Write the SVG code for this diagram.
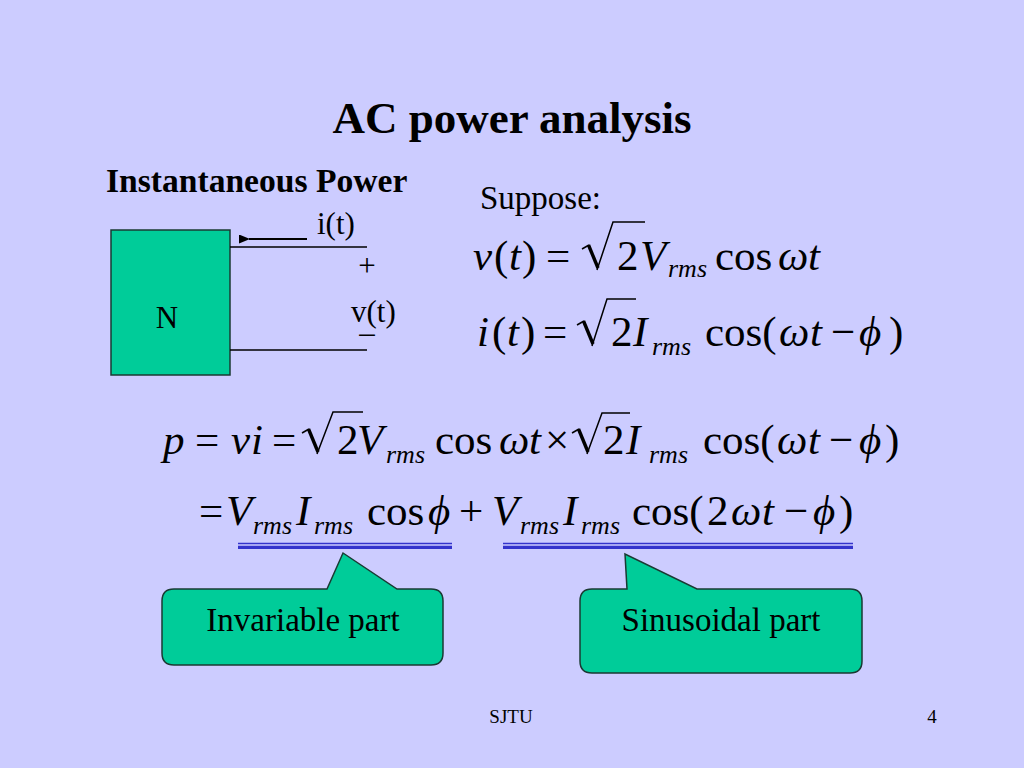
<svg xmlns="http://www.w3.org/2000/svg" width="1024" height="768" viewBox="0 0 1024 768">
<defs>
<style>
.t{font-family:"Liberation Serif","Times New Roman",serif;fill:#000}
.m{font-family:"Liberation Serif","Times New Roman",serif;font-size:43px;fill:#000}
.i{font-style:italic}
.s{font-size:26px;font-style:italic}
.wire{stroke:#000;stroke-width:1.3;fill:none}
.arr{stroke:#000;stroke-width:2;fill:none}
.rt{stroke:#000;stroke-width:1.5;fill:none}
.rk{stroke:#000;stroke-width:3.4;fill:none;stroke-linecap:butt}
.box{fill:#00CC99;stroke:#1a3a33;stroke-width:1.5}
.ul1{stroke:#3333CC;stroke-width:1.4}
.ul2{stroke:#3333CC;stroke-width:3.2}
</style>
<marker id="ah" viewBox="0 0 11 9" refX="1" refY="4.5" markerWidth="11" markerHeight="9" markerUnits="userSpaceOnUse" orient="auto">
<path d="M0,4.5 L11,0 L11,9 Z" fill="#000"/>
</marker>
</defs>
<rect x="0" y="0" width="1024" height="768" fill="#CCCCFF"/>

<text class="t" x="512" y="133" font-size="45" font-weight="bold" text-anchor="middle">AC power analysis</text>
<text class="t" x="106" y="192" font-size="33.6" font-weight="bold">Instantaneous Power</text>
<text class="t" x="480" y="209" font-size="33">Suppose:</text>

<g id="node-N">
<rect class="box" x="111" y="230" width="119" height="145"/>
<text class="t" x="167" y="328" font-size="31" text-anchor="middle">N</text>
</g>

<g id="connectors">
<line class="wire" x1="230" y1="247" x2="367" y2="247"/>
<line class="wire" x1="230" y1="350" x2="367" y2="350"/>
<line class="arr" x1="307" y1="239" x2="249" y2="239" marker-end="url(#ah)"/>
</g>

<g id="labels">
<text class="t" x="317" y="234" font-size="31">i(t)</text>
<text class="t" x="367" y="276" font-size="31" text-anchor="middle">+</text>
<text class="t" x="351" y="322" font-size="31">v(t)</text>
<text class="t" x="367" y="343" font-size="31" text-anchor="middle">–</text>
</g>

<g id="eq-v">
<text class="m" y="270"><tspan class="i" x="473">v</tspan><tspan x="494">(</tspan><tspan class="i" x="509">t</tspan><tspan x="522">)</tspan><tspan x="546">=</tspan><tspan x="617">2</tspan><tspan class="i" x="640">V</tspan><tspan x="715">cos</tspan><tspan class="i" x="778">ω</tspan><tspan class="i" x="808">t</tspan></text>
<text class="m s" x="668" y="277">rms</text>
<path class="rt" d="M582,249 L589,245"/><path class="rk" d="M588.5,245 L598,268"/><path class="rt" d="M597,270 L613,222 L645,222"/>
</g>

<g id="eq-i">
<text class="m" y="346"><tspan class="i" x="477">i</tspan><tspan x="492">(</tspan><tspan class="i" x="507">t</tspan><tspan x="521">)</tspan><tspan x="543">=</tspan><tspan x="611">2</tspan><tspan class="i" x="633">I</tspan><tspan x="705">cos(</tspan><tspan class="i" x="779">ω</tspan><tspan class="i" x="810">t</tspan><tspan x="831">−</tspan><tspan class="i" x="859">ϕ</tspan><tspan x="889">)</tspan></text>
<text class="m s" x="652" y="355">rms</text>
<path class="rt" d="M577,325 L584,321"/><path class="rk" d="M583.5,321 L593,344"/><path class="rt" d="M592,346 L607,299 L636,299"/>
</g>

<g id="eq-p">
<text class="m" y="454"><tspan class="i" x="163">p</tspan><tspan x="195">=</tspan><tspan class="i" x="231">v</tspan><tspan class="i" x="251">i</tspan><tspan x="272">=</tspan><tspan x="337">2</tspan><tspan class="i" x="357">V</tspan><tspan x="435">cos</tspan><tspan class="i" x="499">ω</tspan><tspan class="i" x="529">t</tspan><tspan x="545">×</tspan><tspan x="603">2</tspan><tspan class="i" x="626">I</tspan><tspan x="703">cos(</tspan><tspan class="i" x="777">ω</tspan><tspan class="i" x="808">t</tspan><tspan x="829">−</tspan><tspan class="i" x="859">ϕ</tspan><tspan x="885">)</tspan></text>
<text class="m s" x="386" y="463">rms</text>
<text class="m s" x="649" y="463">rms</text>
<path class="rt" d="M302,433 L309,429"/><path class="rk" d="M308.5,429 L318,452"/><path class="rt" d="M317,454 L333,412 L363,412"/>
<path class="rt" d="M572,433 L579,429"/><path class="rk" d="M578.5,429 L588,452"/><path class="rt" d="M587,454 L602,413 L630,413"/>
</g>

<g id="eq-p2">
<text class="m" y="525"><tspan x="199">=</tspan><tspan class="i" x="226">V</tspan><tspan class="i" x="296">I</tspan><tspan x="367">cos</tspan><tspan class="i" x="428">ϕ</tspan><tspan x="459">+</tspan><tspan class="i" x="492">V</tspan><tspan class="i" x="563">I</tspan><tspan x="632">cos(</tspan><tspan x="707">2</tspan><tspan class="i" x="731">ω</tspan><tspan class="i" x="762">t</tspan><tspan x="784">−</tspan><tspan class="i" x="813">ϕ</tspan><tspan x="839">)</tspan></text>
<text class="m s" x="253" y="534">rms</text>
<text class="m s" x="314" y="534">rms</text>
<text class="m s" x="520" y="534">rms</text>
<text class="m s" x="581" y="534">rms</text>
</g>

<g id="underlines">
<line class="ul1" x1="238" y1="543.5" x2="452" y2="543.5"/>
<line class="ul2" x1="238" y1="547.3" x2="452" y2="547.3"/>
<line class="ul1" x1="503" y1="543.5" x2="853" y2="543.5"/>
<line class="ul2" x1="503" y1="547.3" x2="853" y2="547.3"/>
</g>

<g id="callout-invariable">
<path class="box" d="M174,589 L327,589 L343,553 L397,589 L431,589 Q443,589 443,601 L443,653 Q443,665 431,665 L174,665 Q162,665 162,653 L162,601 Q162,589 174,589 Z"/>
<text class="t" x="303" y="631" font-size="33" text-anchor="middle">Invariable part</text>
</g>

<g id="callout-sinusoidal">
<path class="box" d="M592,589 L627,589 L625,554 L697,589 L850,589 Q862,589 862,601 L862,661 Q862,673 850,673 L592,673 Q580,673 580,661 L580,601 Q580,589 592,589 Z"/>
<text class="t" x="721" y="631" font-size="33" text-anchor="middle">Sinusoidal part</text>
</g>

<text class="t" x="511" y="723" font-size="19" text-anchor="middle">SJTU</text>
<text class="t" x="932" y="723" font-size="19" text-anchor="middle">4</text>
</svg>
